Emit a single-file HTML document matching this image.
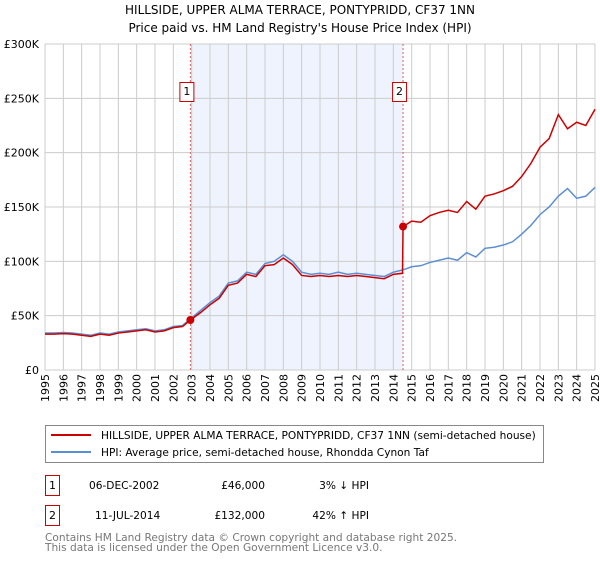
<!DOCTYPE html>
<html><head><meta charset="utf-8"><style>
body{margin:0;background:#fff;font-family:"Liberation Sans","DejaVu Sans",sans-serif;}
svg text{font-family:"DejaVu Sans","Liberation Sans",sans-serif;}
</style></head><body>
<svg id="c" width="600" height="560" xmlns="http://www.w3.org/2000/svg">
<text x="300" y="14" text-anchor="middle" font-size="12">HILLSIDE, UPPER ALMA TERRACE, PONTYPRIDD, CF37 1NN</text>
<text x="300" y="32" text-anchor="middle" font-size="12">Price paid vs. HM Land Registry's House Price Index (HPI)</text>
<g id="plot"></g>
<rect x="45.5" y="425.5" width="498" height="37" fill="#fff" stroke="#888"/>
<line x1="51" y1="435" x2="91" y2="435" stroke="#cc0000" stroke-width="2"/>
<text x="101" y="439" font-size="10.6">HILLSIDE, UPPER ALMA TERRACE, PONTYPRIDD, CF37 1NN (semi-detached house)</text>
<line x1="51" y1="452" x2="91" y2="452" stroke="#5b8fd4" stroke-width="2"/>
<text x="101" y="456" font-size="10.6">HPI: Average price, semi-detached house, Rhondda Cynon Taf</text>
<g>
<rect x="45.5" y="475.5" width="14" height="20" fill="#fff" stroke="#cc0000"/>
<text x="52.5" y="489" font-size="11" text-anchor="middle">1</text>
<text x="89" y="489" font-size="10.6">06-DEC-2002</text>
<text x="265" y="489" font-size="10.6" text-anchor="end">£46,000</text>
<text x="369" y="489" font-size="10.6" text-anchor="end">3% ↓ HPI</text>
</g>
<g>
<rect x="45.5" y="505.5" width="14" height="20" fill="#fff" stroke="#cc0000"/>
<text x="52.5" y="519" font-size="11" text-anchor="middle">2</text>
<text x="95" y="519" font-size="10.6">11-JUL-2014</text>
<text x="265" y="519" font-size="10.6" text-anchor="end">£132,000</text>
<text x="369" y="519" font-size="10.6" text-anchor="end">42% ↑ HPI</text>
</g>
<text x="45" y="541" font-size="10.6" fill="#777">Contains HM Land Registry data © Crown copyright and database right 2025.</text>
<text x="45" y="551" font-size="10.6" fill="#777">This data is licensed under the Open Government Licence v3.0.</text>
</svg>
<script>
const hpiYears=[1995,1995.5,1996,1996.5,1997,1997.5,1998,1998.5,1999,1999.5,2000,2000.5,2001,2001.5,2002,2002.5,2003,2003.5,2004,2004.5,2005,2005.5,2006,2006.5,2007,2007.5,2008,2008.5,2009,2009.5,2010,2010.5,2011,2011.5,2012,2012.5,2013,2013.5,2014,2014.5,2015,2015.5,2016,2016.5,2017,2017.5,2018,2018.5,2019,2019.5,2020,2020.5,2021,2021.5,2022,2022.5,2023,2023.5,2024,2024.5,2025];
const hpiValues=[34,34,34.5,34,33,32,34,33,35,36,37,38,36,37,40,41,48,55,62,68,80,82,90,88,98,100,106,100,90,88,89,88,90,88,89,88,87,86,90,92,95,96,99,101,103,101,108,104,112,113,115,118,125,133,143,150,160,167,158,160,168];
const redYears=[1995,1995.5,1996,1996.5,1997,1997.5,1998,1998.5,1999,1999.5,2000,2000.5,2001,2001.5,2002,2002.5,2002.93,2003.5,2004,2004.5,2005,2005.5,2006,2006.5,2007,2007.5,2008,2008.5,2009,2009.5,2010,2010.5,2011,2011.5,2012,2012.5,2013,2013.5,2014,2014.5,2014.53,2015,2015.5,2016,2016.5,2017,2017.5,2018,2018.5,2019,2019.5,2020,2020.5,2021,2021.5,2022,2022.5,2023,2023.5,2024,2024.5,2025];
const redValues=[33,33,33.5,33,32,31,33,32,34,35,36,37,35,36,39,40,46,53,60,66,78,80,88,86,96,97,103,97,87,86,87,86,87,86,87,86,85,84,88,89,132,137,136,142,145,147,145,155,148,160,162,165,169,178,190,205,213,235,222,228,225,240];
const saleYears=[2002.93,2014.53];
const saleValues=[46,132];
const saleLabels=["1","2"];
const yTicks=[0,50,100,150,200,250,300];
const yTickLabels=["£0","£50K","£100K","£150K","£200K","£250K","£300K"];
const xTicks=[1995,1996,1997,1998,1999,2000,2001,2002,2003,2004,2005,2006,2007,2008,2009,2010,2011,2012,2013,2014,2015,2016,2017,2018,2019,2020,2021,2022,2023,2024,2025];

const X0=45,X1=595,Y0=370,Y1=44;
const xs=y=>X0+(y-1995)/30*(X1-X0);
const ys=v=>Y0-v/300*(Y0-Y1);
const NS="http://www.w3.org/2000/svg";
const g=document.getElementById('plot');
function mk(t,a){const e=document.createElementNS(NS,t);for(const k in a)e.setAttribute(k,a[k]);g.appendChild(e);return e;}

let sh=mk('rect',{x:xs(saleYears[0]),y:Y1,width:xs(saleYears[1])-xs(saleYears[0]),height:Y0-Y1,fill:'#eef3fd'});


xTicks.forEach(t=>{
  const l=mk('line',{x1:xs(t),x2:xs(t),y1:Y1,y2:Y0,stroke:'#ccc'});
  
  
  const tx=mk('text',{x:0,y:0,'font-size':11,'text-anchor':'end',transform:`translate(${xs(t)+4},374) rotate(-90)`});
  tx.textContent=t;
  
  
});
yTicks.forEach((t,i)=>{
  const l=mk('line',{x1:X0,x2:X1,y1:ys(t),y2:ys(t),stroke:'#ccc'});
  
  
  const tx=mk('text',{x:39,y:ys(t)+4,'font-size':11,'text-anchor':'end'});
  tx.textContent=yTickLabels[i];
  
  
});
saleYears.forEach((s,i)=>{
  const l=mk('line',{x1:xs(s),x2:xs(s),y1:Y1,y2:Y0,stroke:'#e06060','stroke-dasharray':'2,2'});
  
  
  const r=mk('rect',{x:xs(s)-10.5,y:82.5,width:14,height:19,fill:'#fff',stroke:'#cc0000'});
  
  
  const tx=mk('text',{x:xs(s)-3.5,y:95,'font-size':11,'text-anchor':'middle'});
  tx.textContent=saleLabels[i];
  
  
});
const hp=mk('polyline',{points:hpiYears.map((y,i)=>xs(y)+','+ys(hpiValues[i])).join(' '),fill:'none',stroke:'#5b8fd4','stroke-width':1.5});


const rp=mk('polyline',{points:redYears.map((y,i)=>xs(y)+','+ys(redValues[i])).join(' '),fill:'none',stroke:'#cc0000','stroke-width':1.5});


saleYears.forEach((s,i)=>{
  const c=mk('circle',{cx:xs(s),cy:ys(saleValues[i]),r:4,fill:'#cc0000'});
  
  
});
</script>
</body></html>
